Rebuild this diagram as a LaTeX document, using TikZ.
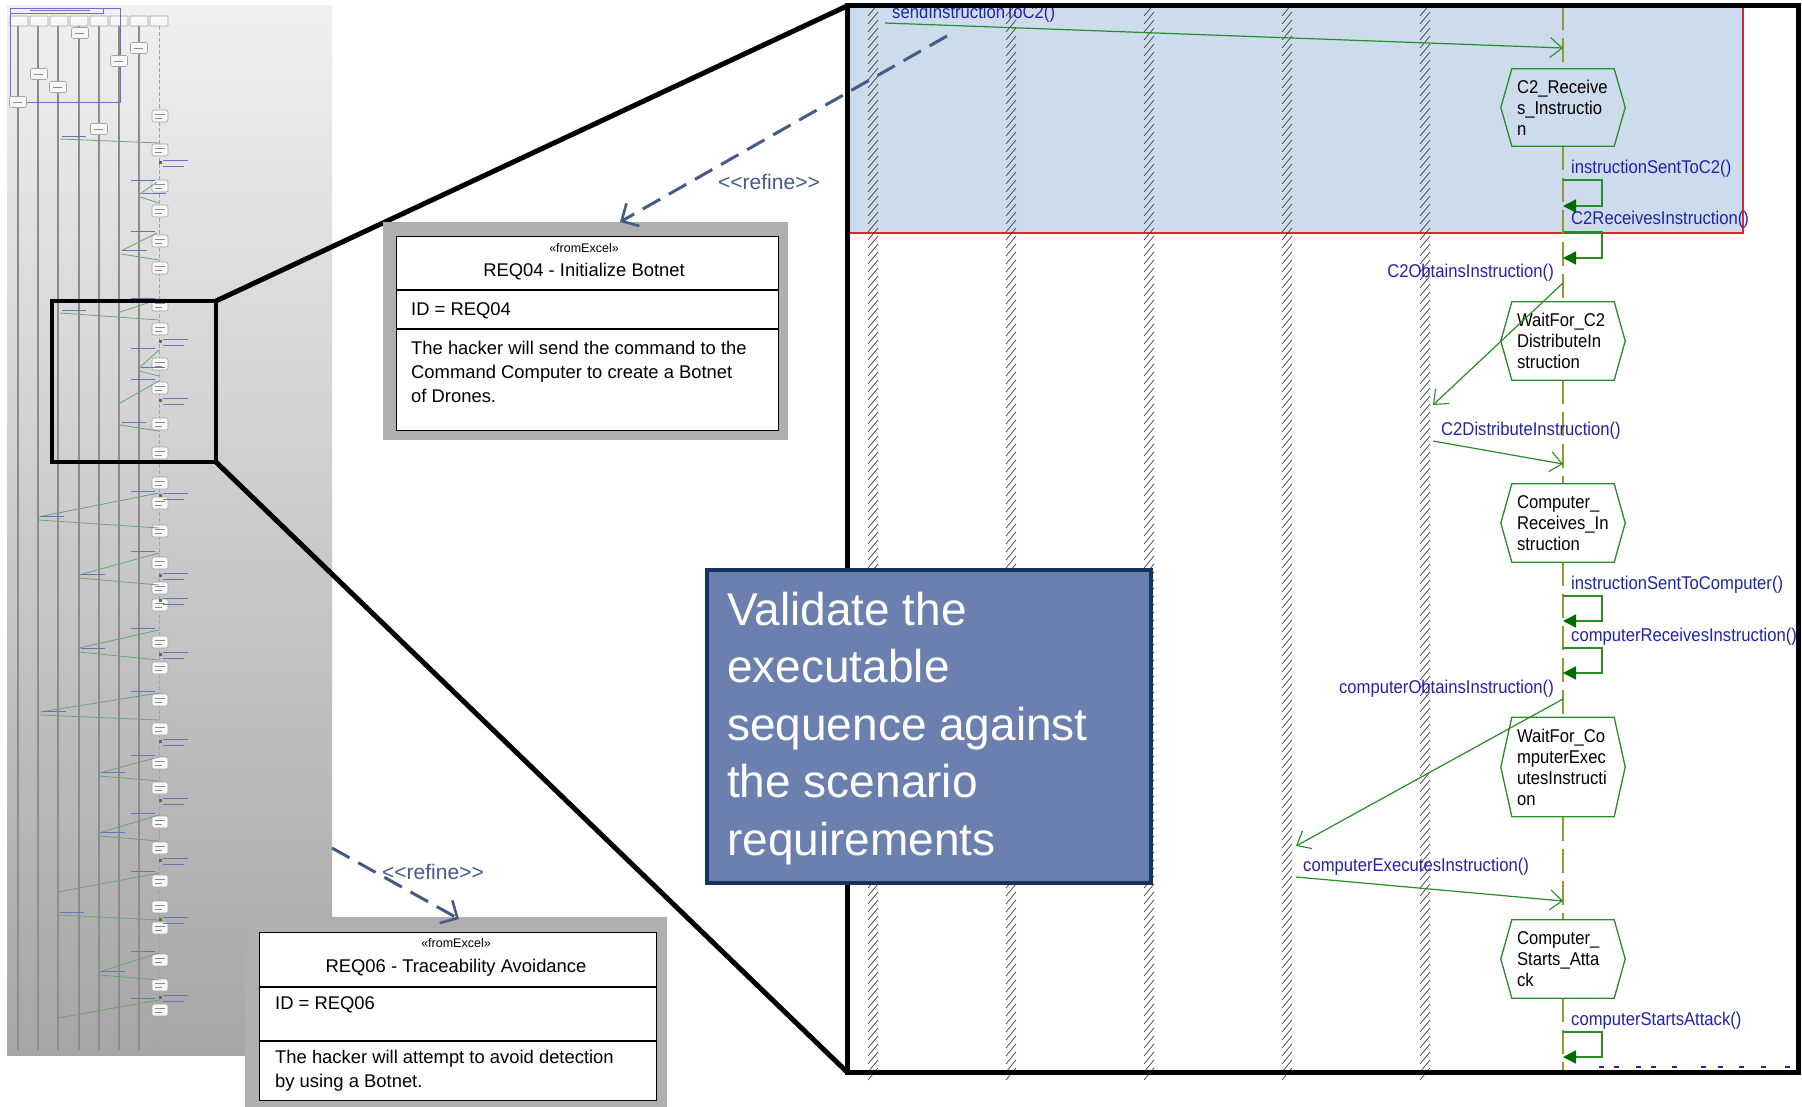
\documentclass[tikz,border=0pt]{standalone}
\usepackage{fontspec}
\setmainfont{Liberation Sans}
\newfontfamily\msgf[FakeStretch=0.9]{Liberation Sans}
\usetikzlibrary{arrows.meta,calc}
\definecolor{panelblue}{RGB}{205,220,236}
\definecolor{panelred}{RGB}{220,40,40}
\definecolor{msgblue}{RGB}{35,35,165}
\definecolor{msggreen}{RGB}{40,140,40}
\definecolor{darkgreen}{RGB}{0,105,0}
\definecolor{lifeolive}{RGB}{150,150,50}
\definecolor{hatchgray}{RGB}{50,50,50}
\definecolor{refblue}{RGB}{70,90,135}
\definecolor{callfill}{RGB}{108,128,176}
\definecolor{callborder}{RGB}{20,52,92}
\definecolor{reqgray}{RGB}{175,175,175}
\definecolor{thline}{RGB}{140,140,140}
\definecolor{thgreen}{RGB}{100,165,120}
\definecolor{thblue}{RGB}{110,110,190}
\definecolor{thframe}{RGB}{110,110,210}
\newcommand\hexnode[4]{%
  \node[hextext, minimum height=#3pt] (#1) at (1563,#2) {#4};
  \draw[hexline] (#1.west) -- ($(#1.north west)+(11,0)$) -- ($(#1.north east)+(-11,0)$)
     -- (#1.east) -- ($(#1.south east)+(-11,0)$) -- ($(#1.south west)+(11,0)$) -- cycle;}
\newcommand\selfloop[2]{%
  \draw[selfmsg] (1563,#1) -- (1602,#1) -- (1602,#2) -- (1563,#2);}
\begin{document}
\begin{tikzpicture}[x=1pt,y=-1pt,
  msg/.style={font=\msgf\fontsize{18.5}{21}\selectfont, text=msgblue, inner sep=0pt},
  hextext/.style={font=\msgf\fontsize{18.5}{21}\selectfont, align=left, text width=92pt, inner sep=0pt, minimum width=124pt},
  hexline/.style={draw=msggreen, line width=1.3pt},
  callarrow/.style={msggreen, line width=1.2pt, -{Straight Barb[length=12pt,width=20pt,line width=1.1pt]}},
  selfmsg/.style={msggreen, line width=1.5pt, -{Triangle[length=13pt,width=13pt,color=darkgreen,fill=darkgreen]}},
  lifeline/.style={lifeolive, line width=1.4pt, dash pattern=on 24pt off 8pt},
  refine/.style={refblue, line width=3pt, dash pattern=on 20pt off 10pt, -{Straight Barb[length=13pt,width=26pt,line width=2.6pt]}},
  refinelabel/.style={font=\fontsize{21}{24}\selectfont, text=refblue, inner sep=0pt},
  reqtext/.style={font=\fontsize{18.4}{23}\selectfont, inner sep=0pt},
  stereo/.style={font=\fontsize{12.5}{14}\selectfont, inner sep=0pt},
  calltext/.style={font=\fontsize{46}{57.5}\selectfont, text=white, inner sep=0pt, anchor=base west},
  zoomline/.style={black, line width=5pt},
  thbox/.style={draw=thline!80, fill=white!94!gray, rounded corners=2pt, line width=0.6pt},
]
\useasboundingbox (0,0) rectangle (1802,1107);
\fill[white] (0,0) rectangle (1802,1107);

% ---------------- thumbnail ----------------
\fill[top color=white!94!black, bottom color=black!35] (7,6) rectangle (332,1055);
\foreach \x in {18,38,58,79,99,119,139} \draw[thline, line width=2pt] (\x,26) -- (\x,1050);
\draw[thline!80, line width=1pt, dash pattern=on 4pt off 2pt] (159,26) -- (159,1050);
\foreach \x in {19,39,59,79,99,119,139,159} \draw[thbox, rounded corners=0.5pt] (\x-9,16) rectangle (\x+9,26);
\draw[thframe, line width=0.8pt] (10,8) rectangle (120,102);
\draw[thframe, line width=0.6pt] (10,8) rectangle (103,13);
\draw[thblue, line width=0.8pt] (30,10.5) -- (90,10.5);
\foreach \x/\y in {80/33,139/48,119/61,39/74,58/87,18/102,99/129}
  {\draw[thbox] (\x-8.5,\y-5.5) rectangle (\x+8.5,\y+5.5);
   \draw[thline, line width=0.6pt] (\x-5,\y) -- (\x+4,\y);}
\foreach \y in {116,150,186,211,241,268,305,329,364,388,424,453,483,503,531,563,588,605,642,668,700,729,763,788,822,848,881,907,928,960,985,1010}
  {\draw[thbox] (152,\y-6) rectangle (168,\y+6);
   \draw[thline, line width=0.6pt] (155,\y-2) -- (165,\y-2) (155,\y+2) -- (162,\y+2);}
\foreach \a/\b/\c/\d in {60/139/159/143, 157/182/140/194, 140/197/159/203, 157/233/121/251, 121/254/159/260,
  157/300/120/312, 60/313/159/320, 159/350/139/368, 139/371/159/376, 159/381/120/403, 120/425/159/431,
  159/493/38/517, 38/520/159/528, 159/553/79/575, 79/578/159/585, 159/630/79/648, 79/652/159/660,
  159/693/40/712, 40/715/159/720, 159/757/99/773, 99/776/159/781, 159/815/99/833, 99/836/159/841,
  159/873/58/892, 58/915/159/920, 159/953/99/972, 99/975/159/980, 159/1000/58/1018}
  \draw[thgreen, line width=0.8pt] (\a,\b) -- (\c,\d);
\foreach \x/\y in {62/136,142/193,123/250,62/310,141/367,122/422,40/516,81/574,81/648,42/711,101/772,101/832,60/912,101/971}
  \draw[thblue, line width=0.8pt] (\x,\y) -- (\x+24,\y);
\foreach \y in {180,231,298,348,379,491,551,628,691,755,813,871,951,998}
  \draw[thblue, line width=0.8pt] (131,\y) -- (155,\y);
\foreach \y in {150,329,388,483,563,588,642,729,788,848,907,985}
  {\draw[thblue, line width=0.7pt] (163,\y+10) -- (188,\y+10) (163,\y+16) -- (184,\y+16);
   \fill[darkgreen!80] (159,\y+11) rectangle (162,\y+14);}
\draw[black, line width=4.5pt] (52,301) rectangle (216,462);

% ---------------- zoomed panel ----------------
\fill[white] (847,6) rectangle (1798,1072);
\fill[panelblue] (847,6) rectangle (1743,233);
\draw[panelred, line width=1.5pt] (847,233) -- (1743,233) -- (1743,6);
\foreach \x in {873,1011,1149,1287,1425}
  \foreach \y in {10,18,...,1074}
    \draw[hatchgray, line width=0.65pt] (\x-5,\y+6) -- (\x+5,\y-6);
% lifeline segments
\foreach \a/\b in {6/69,146/302,380/484,562/717,817/920,998/1072}
  \draw[lifeline] (1563,\a) -- (1563,\b);
% states
\hexnode{s1}{107.5}{77}{C2\_Receive\\s\_Instructio\\n}
\hexnode{s2}{341}{78}{WaitFor\_C2\\DistributeIn\\struction}
\hexnode{s3}{523}{78}{Computer\_\\Receives\_In\\struction}
\hexnode{s4}{767}{99}{WaitFor\_Co\\mputerExec\\utesInstructi\\on}
\hexnode{s5}{959}{78}{Computer\_\\Starts\_Atta\\ck}
% messages
\node[msg, anchor=base west] (m1) at (892,18.5) {sendInstructionToC2()};
\draw[callarrow] (885,23) -- (1563,48);
\node[msg, anchor=base west] (m2) at (1571,173.5) {instructionSentToC2()};
\selfloop{180}{206}
\node[msg, anchor=base west] (m3) at (1571,225) {C2ReceivesInstruction()};
\selfloop{232}{258}
\node[msg, anchor=base east] (m4) at (1554,278) {C2ObtainsInstruction()};
\draw[callarrow] (1563,283) -- (1433,405);
\node[msg, anchor=base west] (m5) at (1441,435) {C2DistributeInstruction()};
\draw[callarrow] (1433,441) -- (1563,464);
\node[msg, anchor=base west] (m6) at (1571,589) {instructionSentToComputer()};
\selfloop{596}{621}
\node[msg, anchor=base west] (m7) at (1571,641) {computerReceivesInstruction()};
\selfloop{648}{673}
\node[msg, anchor=base east] (m8) at (1554,693) {computerObtainsInstruction()};
\draw[callarrow] (1563,699) -- (1296,846);
\node[msg, anchor=base west] (m9) at (1303,871) {computerExecutesInstruction()};
\draw[callarrow] (1296,877) -- (1563,901);
\node[msg, anchor=base west] (m10) at (1571,1025) {computerStartsAttack()};
\selfloop{1032}{1057}
\foreach \x in {1599,1614,1636,1651,1672,1701,1718,1739,1761,1785}
  \draw[msgblue, line width=1.5pt] (\x,1067) -- (\x+5,1067);
\draw[black, line width=5pt] (847,6) rectangle (1798,1072);

% ---------------- zoom connectors ----------------
\coordinate (tr) at (216,301); \coordinate (br) at (216,462);
\coordinate (ptl) at (847,6); \coordinate (pbl) at (847,1072);
\draw[zoomline] (tr) -- (ptl);
\draw[zoomline] (br) -- (pbl);

% ---------------- call-out ----------------
\node[draw=callborder, line width=4pt, fill=callfill, minimum width=444pt, minimum height=313pt, anchor=north west, inner sep=0pt] (callout) at (705,568) {};
\node[calltext] (c1) at (727,625) {Validate the};
\node[calltext] (c2) at (727,682.5) {executable};
\node[calltext] (c3) at (727,740) {sequence against};
\node[calltext] (c4) at (727,797.5) {the scenario};
\node[calltext] (c5) at (727,855) {requirements};

% ---------------- REQ04 ----------------
\fill[reqgray] (383,222) rectangle (788,440);
\node[draw=black, fill=white, line width=1.3pt, anchor=north west, minimum width=382pt, minimum height=194pt, inner sep=0pt] (req4) at (396,236) {};
\draw[black, line width=1.3pt] (396,290) -- (778,290) (396,329) -- (778,329);
\node[stereo, anchor=base] at (584,252.5) {«fromExcel»};
\node[reqtext, anchor=base] at (584,276.5) {REQ04 - Initialize Botnet};
\node[reqtext, anchor=base west] at (411,315.5) {ID = REQ04};
\node[reqtext, anchor=base west] at (411,354.5) {The hacker will send the command to the};
\node[reqtext, anchor=base west] at (411,378.5) {Command Computer to create a Botnet};
\node[reqtext, anchor=base west] at (411,402.5) {of Drones.};

% ---------------- REQ06 ----------------
\fill[reqgray] (245,917) rectangle (667,1108);
\node[draw=black, fill=white, line width=1.3pt, anchor=north west, minimum width=397pt, minimum height=168pt, inner sep=0pt] (req6) at (259,932) {};
\draw[black, line width=1.3pt] (259,987) -- (656,987) (259,1041) -- (656,1041);
\node[stereo, anchor=base] at (456,947.5) {«fromExcel»};
\node[reqtext, anchor=base] at (456,972) {REQ06 - Traceability Avoidance};
\node[reqtext, anchor=base west] at (275,1009.5) {ID = REQ06};
\node[reqtext, anchor=base west] at (275,1063.5) {The hacker will attempt to avoid detection};
\node[reqtext, anchor=base west] at (275,1087) {by using a Botnet.};

% ---------------- refine arrows ----------------
\coordinate (r1s) at (947,36); \coordinate (r1e) at (620,222);
\draw[refine] (r1s) -- (r1e);
\node[refinelabel, anchor=base west] at (718,190) {<{}<refine>{}>};
\coordinate (r2s) at (332,848); \coordinate (r2e) at (459,919);
\draw[refine] (r2s) -- (r2e);
\node[refinelabel, anchor=base west] at (382,879) {<{}<refine>{}>};
\end{tikzpicture}
\end{document}
